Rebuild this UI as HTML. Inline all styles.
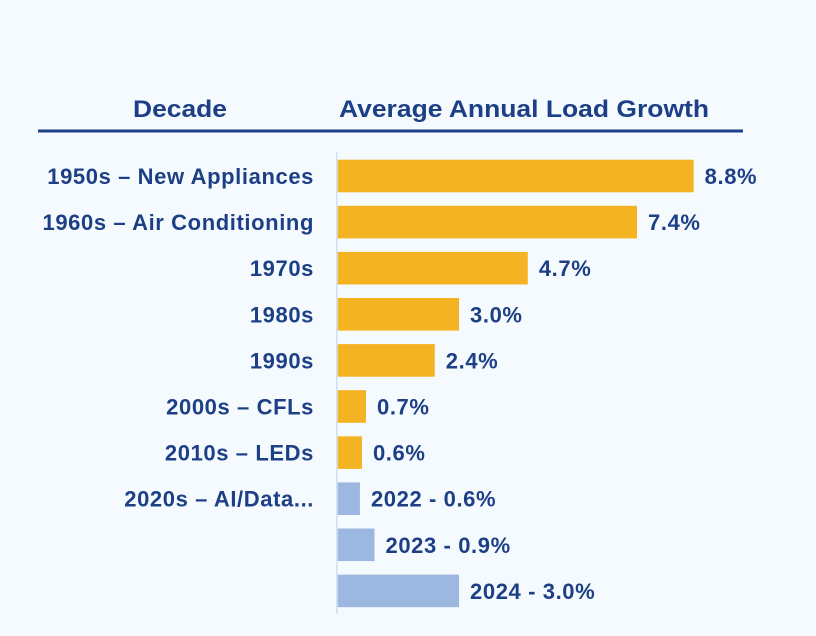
<!DOCTYPE html>
<html><head><meta charset="utf-8"><style>
html,body{margin:0;padding:0;background:#f5faff;}
svg{display:block;font-family:"Liberation Sans",sans-serif;font-weight:bold;}
</style></head><body>
<svg id="chart" width="816" height="636" viewBox="0 0 816 636">
<rect width="816" height="636" fill="#f5faff"/>
<text x="180" y="117" text-anchor="middle" font-size="24" fill="#1d3f86" textLength="94" lengthAdjust="spacingAndGlyphs">Decade</text>
<text x="339" y="117" font-size="24" fill="#1d3f86" textLength="370" lengthAdjust="spacingAndGlyphs">Average Annual Load Growth</text>
<rect x="38" y="129.5" width="705" height="3" fill="#1d3f86"/>
<rect x="336" y="152" width="1.5" height="462" fill="#cfe0f5"/>
<g id="bars"></g>
</svg>
<script>
const categories = ["1950s – New Appliances","1960s – Air Conditioning","1970s","1980s","1990s","2000s – CFLs","2010s – LEDs","2020s – AI/Data...","",""];
const values = [8.8,7.4,4.7,3.0,2.4,0.7,0.6,0.55,0.91,3.0];
const valueLabels = ["8.8%","7.4%","4.7%","3.0%","2.4%","0.7%","0.6%","2022 - 0.6%","2023 - 0.9%","2024 - 3.0%"];
const seriesType = ["hist","hist","hist","hist","hist","hist","hist","recent","recent","recent"];

const x0 = 337.7, pxPer = 40.45;
const xScale = v => x0 + v * pxPer;
const yTop = i => 159.7 + i * 46.1;
const barH = 32.6;
const NS = "http://www.w3.org/2000/svg";
const g = document.getElementById("bars");
categories.forEach((c, i) => {
  const r = document.createElementNS(NS, "rect");
  r.setAttribute("x", x0);
  r.setAttribute("y", yTop(i));
  r.setAttribute("width", xScale(values[i]) - x0);
  r.setAttribute("height", barH);
  r.setAttribute("fill", seriesType[i] === "hist" ? "#f4b322" : "#9db8e0");
  
  
  g.appendChild(r);
  const t = document.createElementNS(NS, "text");
  t.setAttribute("x", xScale(values[i]) + 11);
  t.setAttribute("y", yTop(i) + barH / 2 + 8);
  t.setAttribute("font-size", "22");
  t.setAttribute("letter-spacing", "0.6");
  t.setAttribute("fill", "#1d3f86");
  t.textContent = valueLabels[i];
  
  
  g.appendChild(t);
  if (c) {
    const l = document.createElementNS(NS, "text");
    l.setAttribute("x", 314);
    l.setAttribute("y", yTop(i) + barH / 2 + 8);
    l.setAttribute("text-anchor", "end");
    l.setAttribute("font-size", "22");
    l.setAttribute("letter-spacing", "0.6");
    l.setAttribute("fill", "#1d3f86");
    l.textContent = c;
    
    
    g.appendChild(l);
  }
});
</script>
</body></html>
